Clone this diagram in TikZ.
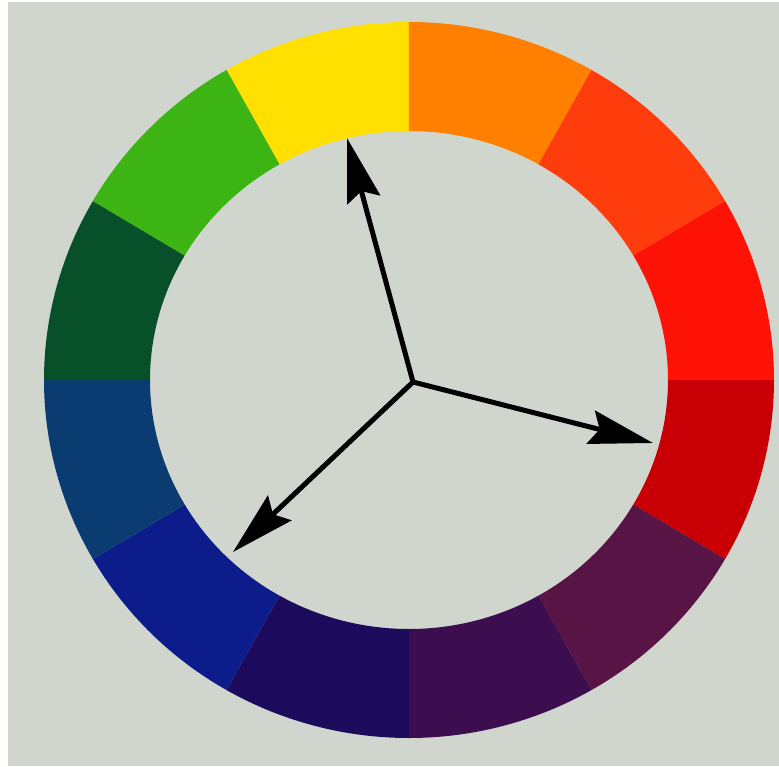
\documentclass[tikz,border=0pt]{standalone}
\usetikzlibrary{arrows.meta}
\definecolor{wheelbg}{RGB}{208,213,206}
\definecolor{wYellow}{RGB}{255,224,0}
\definecolor{wOrange}{RGB}{255,127,0}
\definecolor{wRedOrange}{RGB}{255,60,12}
\definecolor{wRed}{RGB}{255,18,6}
\definecolor{wDarkRed}{RGB}{200,0,6}
\definecolor{wRedViolet}{RGB}{88,20,68}
\definecolor{wViolet}{RGB}{60,14,80}
\definecolor{wIndigo}{RGB}{28,10,92}
\definecolor{wBlue}{RGB}{12,28,138}
\definecolor{wDarkBlue}{RGB}{10,60,114}
\definecolor{wDarkGreen}{RGB}{8,80,42}
\definecolor{wGreen}{RGB}{60,180,20}
\tikzset{
  pointer/.style={line width=5pt, line cap=round,
    -{Stealth[length=64pt,width=34pt,inset=9pt]}}
}

\begin{document}
\begin{tikzpicture}[x=1pt,y=1pt]
\fill[white] (-409,-386) rectangle (370,380);
\fill[wheelbg] (-401,-386) rectangle (370,378);
\useasboundingbox (-409,-386) rectangle (370,380);
% ring of twelve hues
\foreach \a/\c [evaluate=\a as \b using \a+30] in {90/wYellow,60/wOrange,30/wRedOrange,0/wRed,
    -30/wDarkRed,-60/wRedViolet,-90/wViolet,-120/wIndigo,-150/wBlue,180/wDarkBlue,
    150/wDarkGreen,120/wGreen}
  \fill[\c] (\a:365 and 358) arc[start angle=\a, end angle=\b, x radius=365, y radius=358]
    -- (\b:259 and 249) arc[start angle=\b, end angle=\a, x radius=259, y radius=249] -- cycle;
% triad
\coordinate (hub) at (4,-2);
\coordinate (toYellow) at (-62,242);
\coordinate (toRed) at (244,-63);
\coordinate (toBlue) at (-176,-172);
\draw[pointer] (hub) -- (toYellow);
\draw[pointer] (hub) -- (toRed);
\draw[pointer] (hub) -- (toBlue);
\end{tikzpicture}
\end{document}
